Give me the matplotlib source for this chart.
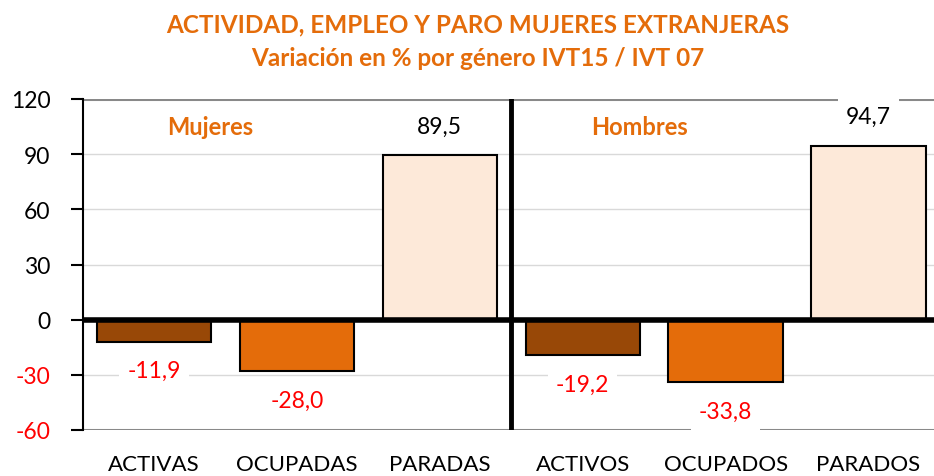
import matplotlib
matplotlib.use("Agg")
import matplotlib.pyplot as plt
import numpy as np

categories = ["ACTIVAS", "OCUPADAS", "PARADAS", "ACTIVOS", "OCUPADOS", "PARADOS"]
values = [-11.9, -28.0, 89.5, -19.2, -33.8, 94.7]
value_labels = ["-11,9", "-28,0", "89,5", "-19,2", "-33,8", "94,7"]
colors = ["#984807", "#E46C0A", "#FDE9D9", "#984807", "#E46C0A", "#FDE9D9"]
yticks = [-60, -30, 0, 30, 60, 90, 120]
group_labels = ["Mujeres", "Hombres"]
title_lines = ["ACTIVIDAD, EMPLEO Y PARO MUJERES EXTRANJERAS",
               "Variación en % por género IVT15 / IVT 07"]

plt.rcParams['font.family'] = ['Lato', 'DejaVu Sans']
ORANGE = "#E46C0A"

fig = plt.figure(figsize=(9.34, 4.77), dpi=100)
ax = fig.add_axes([82.5/934, 1-431/477, (940-82.5)/934, 331/477])

x = np.arange(len(categories))
ax.bar(x, values, width=0.80, color=colors, edgecolor="black", linewidth=1.5, zorder=3)

ax.set_xlim(-0.5, len(categories) - 0.5)
ax.set_ylim(-60, 120)
ax.set_yticks(yticks)
ax.set_yticklabels([str(t) for t in yticks], fontsize=16.5)
for lbl, t in zip(ax.get_yticklabels(), yticks):
    lbl.set_color("red" if t < 0 else "black")
ax.tick_params(axis='y', direction='out', length=9, width=1.5, pad=14)
ax.set_xticks(x)
ax.set_xticklabels(categories, fontsize=16)
ax.tick_params(axis='x', length=0, pad=17)

for s in ["top", "right", "bottom"]:
    ax.spines[s].set_visible(False)
ax.spines["left"].set_linewidth(1.5)
ax.spines["left"].set_color("black")

for t in yticks:
    if t in (-60, 120):
        ax.axhline(t, color="#898989", lw=2.2, zorder=1)
    elif t != 0:
        ax.axhline(t, color="#D9D9D9", lw=1.0, zorder=1)
ax.axhline(0, color="black", lw=4, zorder=4)
ax.axvline(2.5, color="black", lw=3.5, zorder=4)

for xi, v, lab in zip(x, values, value_labels):
    off = 21 if v > 0 else -21
    ax.annotate(lab, (xi, v), xytext=(0, off), textcoords="offset points",
                ha="center", va="center", fontsize=16.5,
                color="black" if v > 0 else "red", zorder=5,
                bbox=dict(boxstyle="square,pad=0.35", fc="white", ec="none"))

ax.text(0.39, 105, group_labels[0], ha="center", va="center", fontsize=17,
        fontweight="bold", color=ORANGE, zorder=5)
ax.text(3.40, 105, group_labels[1], ha="center", va="center", fontsize=17,
        fontweight="bold", color=ORANGE, zorder=5)

fig.text(478/934, 1-25/477, title_lines[0], ha="center", va="center",
         fontsize=17.5, fontweight="bold", color=ORANGE)
fig.text(478/934, 1-58/477, title_lines[1], ha="center", va="center",
         fontsize=17.5, fontweight="bold", color=ORANGE)

fig.savefig("out.png", dpi=100)
